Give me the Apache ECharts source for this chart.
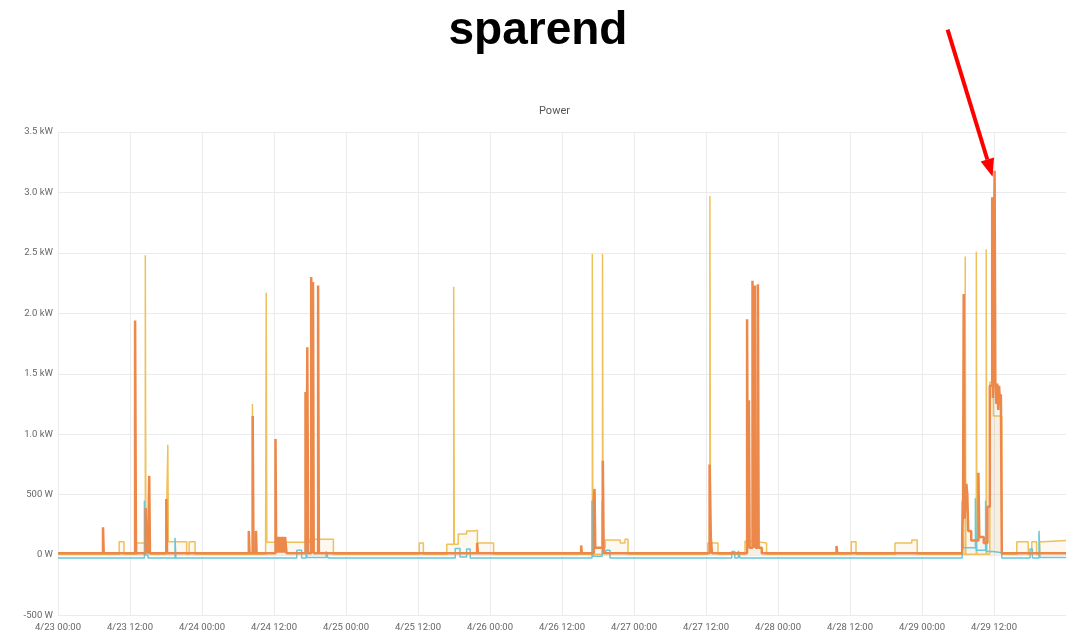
<!DOCTYPE html>
<html>
<head>
<meta charset="utf-8">
<script src="https://cdn.jsdelivr.net/npm/echarts@6/dist/echarts.min.js"></script>
<style>
  html, body { margin: 0; padding: 0; background: #fff; }
  #chart { width: 1076px; height: 636px; }
</style>
</head>
<body>
<div id="chart"></div>
<script>
// x values are hours since 4/23 00:00, y values in W
// each point: [hour, watts] -> value holds until the next point (step line)
const dayLabels = ['4/23', '4/24', '4/25', '4/26', '4/27', '4/28', '4/29', '4/30']
const yTicks = [-500, 0, 500, 1000, 1500, 2000, 2500, 3000, 3500]

const yellowPts = [
  [0, 6],
  [10.2, 110], [11.0, 6],
  [13.1, 100], [14.55, 2480], [14.65, 100], [15.3, 6],
  [18.0, 110], [18.3, 912], [18.4, 110], [21.45, 6], [21.85, 110], [22.85, 6],
  [32.4, 1250], [32.55, 6],
  [34.6, 105], [34.7, 2170], [34.8, 105], [42.0, 130], [45.9, 6],
  [60.2, 100], [60.9, 6],
  [64.8, 90], [65.95, 2220], [66.05, 90], [66.7, 175], [68.1, 200], [69.2, 205], [69.9, 100], [72.6, 6],
  [89.05, 2490], [89.15, 6], [90.75, 2490], [90.85, 60], [91.2, 125], [93.7, 100], [94.5, 130], [95.0, 6],
  [108.3, 100], [108.65, 2970], [108.75, 100], [110.0, 6],
  [114.5, 115], [115.9, 100], [118.1, 6],
  [132.2, 110], [133.0, 6],
  [139.5, 100], [142.3, 125], [143.2, 6],
  [151.2, 2470], [151.3, 6], [153.05, 2510], [153.15, 6], [154.7, 2530], [154.8, 6],
  [155.3, 1430], [155.9, 1150], [157.3, 6],
  [159.8, 110], [161.7, 6], [162.3, 110], [163.1, 6], [163.6, 110], [164.2, 120], [168, 120]
]

const cyanPts = [
  [0, -25],
  [14.4, 450], [14.55, 0], [15.0, -25],
  [19.5, 143], [19.65, -25],
  [39.8, 40], [40.6, -25], [41.35, 320], [41.5, -20], [44.7, 30], [45.0, -25],
  [66.2, 55], [67.0, -15], [68.1, 50], [68.7, -25],
  [89.0, 450], [89.15, -10], [90.7, 450], [90.85, 20], [91.3, 40], [92.0, -25],
  [112.3, 30], [112.8, -25], [113.4, 35], [113.7, -25],
  [150.7, 450], [150.85, 60], [152.9, 470], [153.05, 40], [154.6, 450], [154.75, 30], [155.9, 20], [157.3, -25],
  [162.0, 50], [162.4, -25], [163.5, 200], [163.65, -20], [168, -25]
]

const orangePts = [
  [0, 14],
  [7.5, 230], [7.62, 14],
  [12.85, 1940], [13.0, 14],
  [14.6, 390], [14.75, 40], [15.0, 14], [15.2, 655], [15.33, 14],
  [18.05, 464], [18.18, 14],
  [31.8, 200], [31.92, 14], [32.45, 1150], [32.58, 14], [33.0, 200], [33.1, 14],
  [36.25, 960], [36.35, 150], [36.5, 20], [36.6, 150], [36.75, 20], [36.85, 150], [37.0, 20], [37.1, 150],
  [37.25, 20], [37.35, 150], [37.5, 20], [37.6, 150], [37.75, 20], [37.85, 150], [38.1, 14],
  [41.25, 1350], [41.4, 100], [41.55, 1720], [41.7, 14], [42.2, 2300], [42.32, 200], [42.5, 2260], [42.62, 14],
  [43.35, 2230], [43.48, 14],
  [69.85, 100], [70.0, 14],
  [87.2, 80], [87.3, 14],
  [89.3, 470], [89.42, 547], [89.55, 60], [90.8, 780], [90.95, 14],
  [108.6, 750], [108.8, 150], [109.0, 14],
  [114.85, 1950], [114.97, 60], [115.15, 1280], [115.27, 60], [115.75, 2270], [115.87, 60],
  [116.15, 2230], [116.27, 60], [116.65, 2240], [116.78, 60], [117.3, 14],
  [129.75, 75], [129.88, 14],
  [150.7, 170], [150.85, 450], [150.95, 2160], [151.1, 300], [151.4, 590], [151.55, 500], [151.7, 200],
  [152.2, 120], [153.4, 680], [153.55, 150], [154.3, 100], [154.9, 400], [155.3, 1400], [155.7, 2960],
  [155.82, 1300], [156.1, 3180], [156.22, 1450], [156.4, 1250], [156.55, 1420], [156.7, 1200],
  [156.85, 1400], [157.0, 1250], [157.15, 1330], [157.3, 14],
  [168, 14]
]

const peakPoint = [156.1, 3180]

const chart = echarts.init(document.getElementById('chart'))

const fmtX = (h) => {
  const day = dayLabels[Math.floor(h / 24)]
  return day + (h % 24 === 0 ? ' 00:00' : ' 12:00')
}
const fmtY = (v) => (Math.abs(v) >= 1000 ? (v / 1000).toFixed(1) + ' kW' : v + ' W')

const lineSeries = (name, data, color, width, area) => ({
  name,
  type: 'line',
  step: 'end',
  data,
  showSymbol: false,
  silent: true,
  sampling: null,
  lineStyle: { color, width },
  itemStyle: { color },
  areaStyle: area ? { color: area } : undefined
})

chart.setOption({
  animation: false,
  title: [
    {
      text: 'sparend',
      left: 'center',
      top: 8,
      padding: 0,
      textStyle: { fontFamily: 'Liberation Sans', fontSize: 46, fontWeight: 'bold', color: '#000' }
    },
    {
      text: 'Power',
      left: 539,
      top: 106,
      padding: 0,
      textStyle: { fontFamily: 'Roboto', fontSize: 11, fontWeight: 'normal', color: '#555' }
    }
  ],
  grid: { left: 58, right: 10, top: 132, bottom: 20.5, containLabel: false },
  xAxis: {
    type: 'value',
    min: 0,
    max: 168,
    interval: 12,
    axisLine: { show: false },
    axisTick: { show: false },
    axisLabel: {
      formatter: fmtX,
      showMaxLabel: false,
      margin: 7,
      fontFamily: 'Roboto',
      fontSize: 9.5,
      color: '#666'
    },
    splitLine: { show: true, showMaxLine: false, lineStyle: { color: '#ebebeb', width: 1 } }
  },
  yAxis: {
    type: 'value',
    min: yTicks[0],
    max: yTicks[yTicks.length - 1],
    interval: 500,
    axisLine: { show: false },
    axisTick: { show: false },
    axisLabel: { formatter: fmtY, margin: 5, fontFamily: 'Roboto', fontSize: 9.5, color: '#666' },
    splitLine: { show: true, lineStyle: { color: '#ebebeb', width: 1 } }
  },
  series: [
    lineSeries('yellow', yellowPts, '#f0c05a', 1.5, 'rgba(240,190,80,0.12)'),
    lineSeries('cyan', cyanPts, '#66c8da', 1.5, null),
    lineSeries('orange', orangePts, '#ec884a', 2.5, 'rgba(190,150,110,0.15)')
  ]
})

// red arrow pointing at the peak
const p = chart.convertToPixel({ xAxisIndex: 0, yAxisIndex: 0 }, peakPoint)
const tip = [p[0] - 2, p[1] + 6]
const tail = [tip[0] - 45, tip[1] - 147]
const len = Math.hypot(tip[0] - tail[0], tip[1] - tail[1])
const ux = (tip[0] - tail[0]) / len
const uy = (tip[1] - tail[1]) / len
const base = [tip[0] - 18 * ux, tip[1] - 18 * uy]
const half = 7
chart.setOption({
  graphic: [
    {
      type: 'line',
      shape: { x1: tail[0], y1: tail[1], x2: base[0], y2: base[1] },
      style: { stroke: '#ff0000', lineWidth: 4 },
      silent: true
    },
    {
      type: 'polygon',
      shape: {
        points: [tip, [base[0] - uy * half, base[1] + ux * half], [base[0] + uy * half, base[1] - ux * half]]
      },
      style: { fill: '#ff0000' },
      silent: true
    }
  ]
})
</script>
</body>
</html>
